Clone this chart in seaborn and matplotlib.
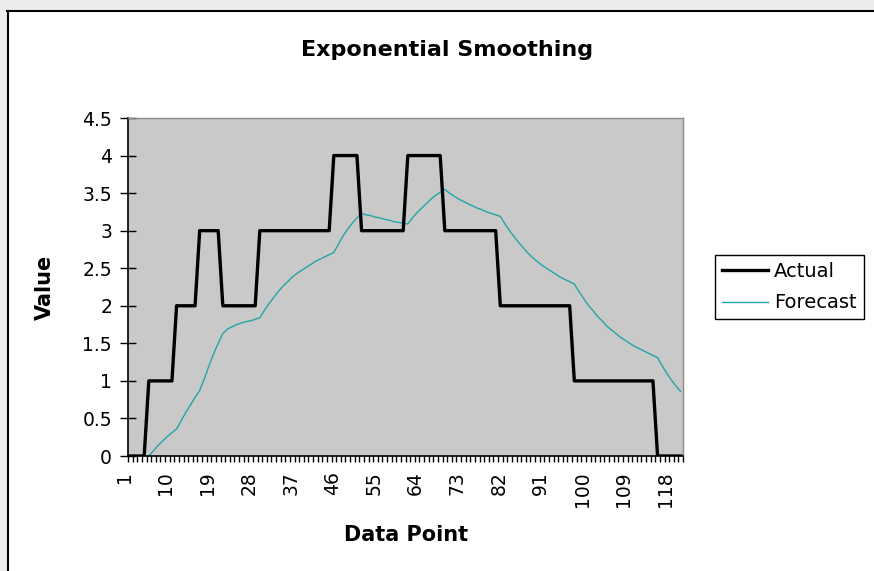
import numpy as np
import pandas as pd
import matplotlib
matplotlib.use('Agg')
import matplotlib.pyplot as plt
import matplotlib.transforms as mtransforms
from matplotlib.patches import Rectangle
from matplotlib.lines import Line2D
import seaborn as sns

# data points 1..120
points = list(range(1, 121))

actual = [0, 0, 0, 0, 1, 1, 1, 1, 1, 1,
          2, 2, 2, 2, 2, 3, 3, 3, 3, 3,
          2, 2, 2, 2, 2, 2, 2, 2, 3, 3,
          3, 3, 3, 3, 3, 3, 3, 3, 3, 3,
          3, 3, 3, 3, 4, 4, 4, 4, 4, 4,
          3, 3, 3, 3, 3, 3, 3, 3, 3, 3,
          4, 4, 4, 4, 4, 4, 4, 4, 3, 3,
          3, 3, 3, 3, 3, 3, 3, 3, 3, 3,
          2, 2, 2, 2, 2, 2, 2, 2, 2, 2,
          2, 2, 2, 2, 2, 2, 1, 1, 1, 1,
          1, 1, 1, 1, 1, 1, 1, 1, 1, 1,
          1, 1, 1, 1, 0, 0, 0, 0, 0, 0]

forecast = [np.nan, 0, 0, 0, 0, 0.07, 0.14, 0.20, 0.26, 0.31,
            0.36, 0.47, 0.58, 0.68, 0.78, 0.87, 1.03, 1.20, 1.36, 1.50,
            1.63, 1.69, 1.72, 1.75, 1.77, 1.79, 1.80, 1.82, 1.84, 1.94,
            2.03, 2.11, 2.19, 2.26, 2.32, 2.38, 2.43, 2.47, 2.51, 2.55,
            2.59, 2.62, 2.65, 2.68, 2.71, 2.82, 2.93, 3.02, 3.10, 3.17,
            3.23, 3.21, 3.20, 3.18, 3.17, 3.15, 3.14, 3.12, 3.11, 3.10,
            3.09, 3.17, 3.24, 3.30, 3.36, 3.42, 3.47, 3.51, 3.55, 3.50,
            3.46, 3.42, 3.39, 3.36, 3.33, 3.30, 3.28, 3.25, 3.23, 3.21,
            3.19, 3.09, 3.00, 2.92, 2.84, 2.77, 2.70, 2.64, 2.59, 2.54,
            2.50, 2.46, 2.42, 2.38, 2.35, 2.32, 2.29, 2.19, 2.10, 2.01,
            1.94, 1.86, 1.80, 1.73, 1.68, 1.63, 1.58, 1.54, 1.50, 1.46,
            1.43, 1.40, 1.37, 1.34, 1.31, 1.20, 1.10, 1.01, 0.93, 0.86]

label_points = [1, 10, 19, 28, 37, 46, 55, 64, 73, 82, 91, 100, 109, 118]
y_ticks = [0, 0.5, 1, 1.5, 2, 2.5, 3, 3.5, 4, 4.5]
y_labels = ['0', '0.5', '1', '1.5', '2', '2.5', '3', '3.5', '4', '4.5']

df = pd.DataFrame({'Data Point': points, 'Actual': actual, 'Forecast': forecast})

W, H = 874, 571
fig = plt.figure(figsize=(W / 100, H / 100), dpi=100)
fig.patch.set_facecolor('white')

# screenshot-like surround and chart frame
fig.patches.append(Rectangle((0, 1 - 10 / H), 1, 10 / H, transform=fig.transFigure,
                             facecolor='#ececec', edgecolor='none', zorder=0))
fig.patches.append(Rectangle((0, 0), 7 / W, 1, transform=fig.transFigure,
                             facecolor='#ececec', edgecolor='none', zorder=0))
fig.lines.append(Line2D([7 / W, 1], [1 - 10.5 / H, 1 - 10.5 / H], transform=fig.transFigure,
                        color='black', lw=1.5))
fig.lines.append(Line2D([7.5 / W, 7.5 / W], [0, 1 - 10.5 / H], transform=fig.transFigure,
                        color='black', lw=1.5))

left, right, top, bottom = 128, 683, 118, 456
ax = fig.add_axes([left / W, 1 - bottom / H, (right - left) / W, (bottom - top) / H])
ax.set_facecolor('#c9c9c9')

teal = '#22a5a5'
sns.lineplot(data=df, x='Data Point', y='Forecast', ax=ax, color=teal, linewidth=1.0,
             label='Forecast', zorder=2)
sns.lineplot(data=df, x='Data Point', y='Actual', ax=ax, color='black', linewidth=2.4,
             label='Actual', zorder=3)

ax.set_xlim(0.5, 120.5)
ax.set_ylim(0, 4.5)

ax.set_yticks(y_ticks)
ax.set_yticklabels(y_labels)
ax.tick_params(axis='y', direction='inout', length=11, width=1, pad=6, labelsize=13.5)

ax.set_xticks(label_points)
ax.set_xticklabels([str(p) for p in label_points], rotation=90)
ax.set_xticks(np.arange(0.5, 121, 1), minor=True)
ax.tick_params(axis='x', which='major', length=0, pad=11, labelsize=13.5)
ax.tick_params(axis='x', which='minor', direction='out', length=4, width=1)
shift = mtransforms.ScaledTranslation(-6 / 100, 0, fig.dpi_scale_trans)
for lbl in ax.get_xticklabels():
    lbl.set_transform(lbl.get_transform() + shift)

for side in ['top', 'right']:
    ax.spines[side].set_color('#8a8a8a')
    ax.spines[side].set_linewidth(1)
for side in ['left', 'bottom']:
    ax.spines[side].set_color('black')
    ax.spines[side].set_linewidth(1.2)

ax.set_xlabel('')
ax.set_ylabel('')
fig.text(447 / W, 1 - 50 / H, 'Exponential Smoothing', ha='center', va='center',
         fontsize=16, fontweight='bold')
fig.text(406 / W, 1 - 535 / H, 'Data Point', ha='center', va='center',
         fontsize=15, fontweight='bold')
fig.text(45 / W, 1 - 287 / H, 'Value', ha='center', va='center', rotation=90,
         fontsize=15, fontweight='bold')

handles, labels = ax.get_legend_handles_labels()
order = [labels.index('Actual'), labels.index('Forecast')]
ax.legend([handles[i] for i in order], [labels[i] for i in order],
          loc='center left', bbox_to_anchor=(715 / W, 1 - 287 / H),
          bbox_transform=fig.transFigure, frameon=True, fancybox=False,
          edgecolor='black', framealpha=1, fontsize=14, handlelength=2.4,
          handletextpad=0.3, borderpad=0.35, labelspacing=0.65, borderaxespad=0)
ax.get_legend().get_frame().set_linewidth(1)

fig.savefig('out.png', dpi=100)
